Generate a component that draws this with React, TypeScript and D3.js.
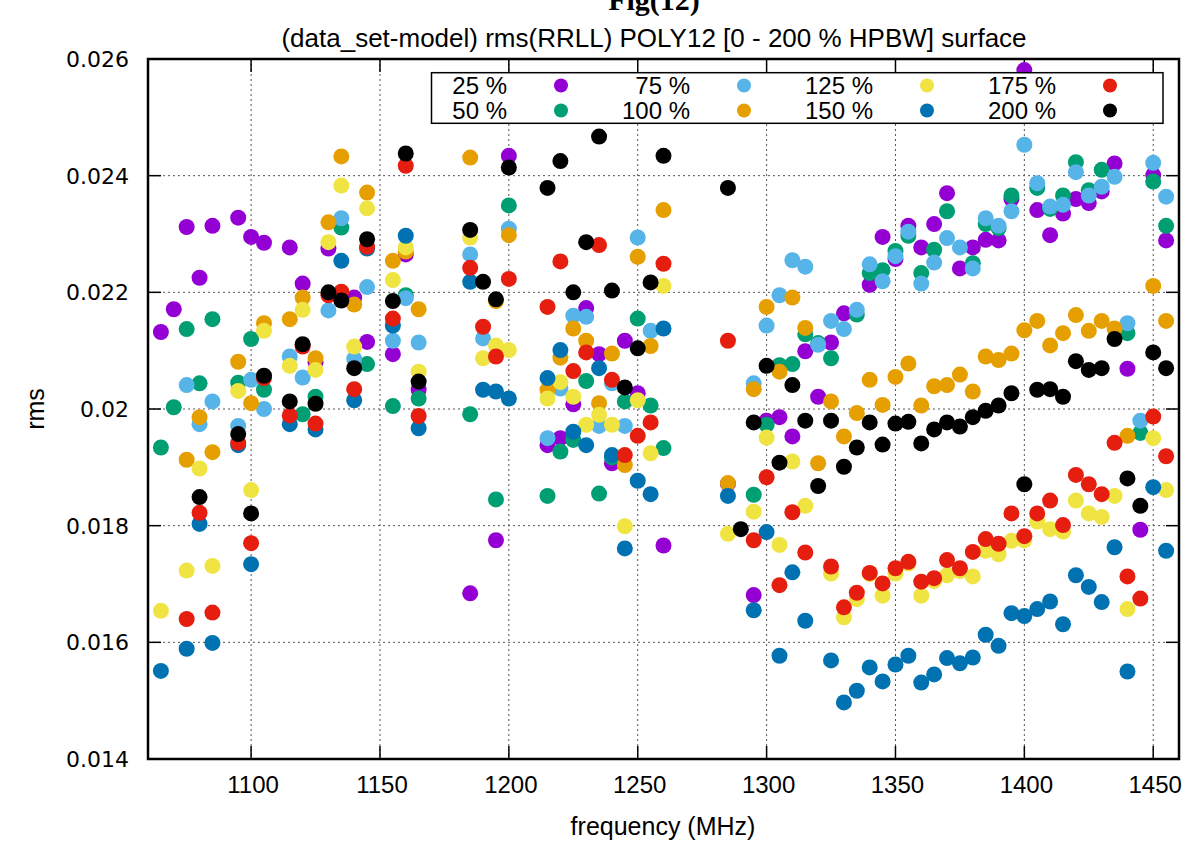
import React from "react";
import * as d3 from "d3";

type P = [number, number];

const s25: P[] = [[1065,0.02132],[1070,0.02171],[1075,0.02312],[1080,0.02225],[1085,0.02314],[1095,0.02328],[1100,0.02295],[1105,0.02285],[1115,0.02277],[1120,0.02215],[1125,0.0208],[1130,0.02275],[1140,0.02191],[1145,0.02115],[1155,0.02094],[1160,0.02265],[1165,0.02033],[1185,0.01684],[1195,0.01775],[1200,0.02434],[1215,0.01938],[1220,0.0195],[1225,0.02008],[1230,0.02173],[1235,0.02094],[1240,0.01907],[1245,0.02117],[1250,0.02027],[1260,0.01766],[1285,0.01872],[1295,0.01681],[1300,0.0198],[1305,0.01986],[1310,0.01953],[1315,0.02099],[1320,0.02021],[1325,0.02114],[1330,0.02164],[1340,0.02213],[1345,0.02295],[1350,0.02257],[1355,0.02314],[1360,0.02277],[1365,0.02317],[1370,0.0237],[1375,0.02241],[1380,0.02277],[1385,0.0229],[1390,0.02289],[1395,0.0236],[1400,0.02581],[1405,0.02341],[1410,0.02298],[1415,0.02335],[1420,0.0236],[1425,0.02353],[1430,0.02373],[1435,0.02421],[1440,0.02069],[1445,0.01793],[1450,0.02401],[1455,0.02289]];

const s50: P[] = [[1065,0.01934],[1070,0.02003],[1075,0.02137],[1080,0.02044],[1085,0.02154],[1095,0.02045],[1100,0.0212],[1105,0.02033],[1120,0.01991],[1125,0.02021],[1135,0.02311],[1145,0.02077],[1155,0.02005],[1160,0.02195],[1165,0.02018],[1185,0.01991],[1195,0.01845],[1200,0.02349],[1215,0.01851],[1220,0.01927],[1225,0.01947],[1230,0.02048],[1235,0.01855],[1240,0.01917],[1245,0.02013],[1250,0.02155],[1255,0.02006],[1260,0.01933],[1295,0.01853],[1300,0.01973],[1305,0.02075],[1310,0.02077],[1315,0.02128],[1320,0.02113],[1325,0.02087],[1335,0.02162],[1340,0.02233],[1345,0.02238],[1350,0.02271],[1355,0.02297],[1360,0.02233],[1365,0.02273],[1370,0.02339],[1380,0.0225],[1385,0.02317],[1390,0.0231],[1395,0.02366],[1405,0.02379],[1410,0.02343],[1415,0.02366],[1420,0.02423],[1425,0.02375],[1430,0.0241],[1440,0.0213],[1445,0.01959],[1450,0.0239],[1455,0.02314]];

const s75: P[] = [[1075,0.02041],[1080,0.01974],[1085,0.02013],[1095,0.01971],[1100,0.0205],[1105,0.02],[1115,0.0209],[1120,0.02054],[1130,0.02169],[1135,0.02327],[1140,0.02086],[1145,0.02209],[1155,0.02117],[1160,0.0219],[1165,0.02114],[1185,0.02265],[1190,0.02121],[1200,0.02309],[1215,0.0195],[1220,0.02035],[1225,0.0216],[1230,0.02158],[1235,0.01971],[1240,0.02044],[1245,0.01971],[1250,0.02294],[1255,0.02134],[1295,0.02044],[1300,0.02143],[1305,0.02195],[1310,0.02255],[1315,0.02244],[1320,0.0211],[1325,0.02151],[1330,0.02137],[1335,0.0217],[1340,0.02248],[1345,0.02219],[1350,0.02262],[1355,0.02304],[1360,0.02215],[1365,0.02251],[1370,0.02293],[1375,0.02277],[1380,0.02241],[1385,0.02327],[1390,0.02314],[1395,0.02339],[1400,0.02453],[1405,0.02387],[1410,0.02347],[1415,0.0235],[1420,0.02406],[1425,0.02366],[1430,0.02381],[1435,0.02398],[1440,0.02147],[1445,0.0198],[1450,0.02422],[1455,0.02364]];

const s100: P[] = [[1075,0.01913],[1080,0.01986],[1085,0.01926],[1095,0.02081],[1100,0.0201],[1105,0.02147],[1115,0.02154],[1120,0.02191],[1125,0.02087],[1130,0.0232],[1135,0.02433],[1140,0.02179],[1145,0.02371],[1155,0.02254],[1160,0.0227],[1165,0.02171],[1185,0.02431],[1195,0.02185],[1200,0.02298],[1215,0.02033],[1220,0.02088],[1225,0.02138],[1230,0.02117],[1235,0.0201],[1240,0.02095],[1245,0.01904],[1250,0.02261],[1255,0.02108],[1260,0.02341],[1285,0.01873],[1295,0.02034],[1300,0.02175],[1305,0.02064],[1310,0.02191],[1315,0.02139],[1320,0.01907],[1325,0.02013],[1330,0.01953],[1335,0.01993],[1340,0.0205],[1345,0.02007],[1350,0.02055],[1355,0.02078],[1360,0.02006],[1365,0.02039],[1370,0.02041],[1375,0.02059],[1380,0.0203],[1385,0.0209],[1390,0.02084],[1395,0.02095],[1400,0.02135],[1405,0.02151],[1410,0.02109],[1415,0.0213],[1420,0.02161],[1425,0.02134],[1430,0.02151],[1435,0.02138],[1440,0.01954],[1450,0.02211],[1455,0.02151]];

const s125: P[] = [[1065,0.01654],[1075,0.01723],[1080,0.01898],[1085,0.01731],[1095,0.02031],[1100,0.01861],[1105,0.02134],[1115,0.02074],[1120,0.0217],[1125,0.02067],[1130,0.02286],[1135,0.02383],[1140,0.02107],[1145,0.02344],[1155,0.02221],[1160,0.02277],[1165,0.02064],[1185,0.02294],[1190,0.02087],[1195,0.02109],[1200,0.02101],[1215,0.02018],[1220,0.02046],[1225,0.02021],[1230,0.01973],[1235,0.0199],[1240,0.01973],[1245,0.01799],[1250,0.02015],[1255,0.01924],[1260,0.02211],[1285,0.01786],[1295,0.01824],[1300,0.01951],[1305,0.01767],[1310,0.0191],[1315,0.01834],[1325,0.01718],[1330,0.01643],[1335,0.01674],[1340,0.01717],[1345,0.0168],[1350,0.01718],[1355,0.01735],[1360,0.0168],[1365,0.01705],[1370,0.01715],[1375,0.01722],[1380,0.01713],[1385,0.01757],[1390,0.01751],[1395,0.01774],[1400,0.01775],[1405,0.01807],[1410,0.01794],[1415,0.0179],[1420,0.01843],[1425,0.01821],[1430,0.01815],[1435,0.01851],[1440,0.01657],[1450,0.0195],[1455,0.01861]];

const s150: P[] = [[1065,0.01551],[1075,0.01589],[1080,0.01803],[1085,0.01599],[1095,0.01938],[1100,0.01734],[1115,0.01974],[1125,0.01965],[1135,0.02254],[1140,0.02015],[1145,0.02275],[1155,0.02143],[1160,0.02297],[1165,0.01967],[1185,0.02218],[1190,0.02033],[1195,0.0203],[1200,0.02018],[1215,0.02053],[1220,0.02101],[1225,0.01961],[1230,0.01938],[1235,0.0207],[1240,0.01921],[1245,0.01761],[1250,0.01877],[1255,0.01854],[1260,0.02138],[1285,0.01851],[1295,0.01655],[1300,0.01789],[1305,0.01577],[1310,0.0172],[1315,0.01637],[1325,0.01569],[1330,0.01497],[1335,0.01517],[1340,0.01557],[1345,0.01533],[1350,0.01562],[1355,0.01577],[1360,0.01531],[1365,0.01545],[1370,0.01573],[1375,0.01564],[1380,0.01574],[1385,0.01613],[1390,0.01594],[1395,0.0165],[1400,0.01645],[1405,0.01657],[1410,0.0167],[1415,0.01631],[1420,0.01715],[1425,0.01695],[1430,0.01669],[1435,0.01763],[1440,0.0155],[1450,0.01866],[1455,0.01757]];

const s175: P[] = [[1075,0.0164],[1080,0.01822],[1085,0.01651],[1095,0.01942],[1100,0.0177],[1105,0.02053],[1115,0.01989],[1120,0.02107],[1125,0.01975],[1130,0.02195],[1135,0.02201],[1140,0.02034],[1145,0.02278],[1155,0.02155],[1160,0.02417],[1165,0.01988],[1185,0.02242],[1190,0.02141],[1195,0.0209],[1200,0.02223],[1215,0.02175],[1220,0.02253],[1225,0.02065],[1230,0.02097],[1235,0.02281],[1240,0.0205],[1245,0.01921],[1250,0.01954],[1255,0.01977],[1260,0.02249],[1285,0.02117],[1295,0.01775],[1300,0.01883],[1305,0.01698],[1310,0.01823],[1315,0.01754],[1325,0.0173],[1330,0.0166],[1335,0.01685],[1340,0.01719],[1345,0.01701],[1350,0.01727],[1355,0.01738],[1360,0.01704],[1365,0.0171],[1370,0.01741],[1375,0.01727],[1380,0.01755],[1385,0.01777],[1390,0.01769],[1395,0.01821],[1400,0.01782],[1405,0.01821],[1410,0.01843],[1415,0.01801],[1420,0.01887],[1425,0.01871],[1430,0.01854],[1435,0.01942],[1440,0.01713],[1445,0.01675],[1450,0.01987],[1455,0.01919]];

const s200: P[] = [[1080,0.01849],[1095,0.01957],[1100,0.01821],[1105,0.02057],[1115,0.02013],[1120,0.02111],[1125,0.02009],[1130,0.022],[1135,0.02186],[1140,0.0207],[1145,0.02291],[1155,0.02185],[1160,0.02438],[1165,0.02047],[1185,0.02307],[1190,0.02218],[1195,0.02188],[1200,0.02414],[1215,0.02379],[1220,0.02425],[1225,0.022],[1230,0.02286],[1235,0.02467],[1240,0.02203],[1245,0.02037],[1250,0.02104],[1255,0.02217],[1260,0.02434],[1285,0.02379],[1290,0.01794],[1295,0.01977],[1300,0.02074],[1305,0.01908],[1310,0.02041],[1315,0.0198],[1320,0.01868],[1325,0.0198],[1330,0.01901],[1335,0.01934],[1340,0.01977],[1345,0.01939],[1350,0.01975],[1355,0.01978],[1360,0.01941],[1365,0.01965],[1370,0.01977],[1375,0.0197],[1380,0.01986],[1385,0.01997],[1390,0.02006],[1395,0.02027],[1400,0.01871],[1405,0.02033],[1410,0.02034],[1415,0.02021],[1420,0.02082],[1425,0.02067],[1430,0.0207],[1435,0.0212],[1440,0.01881],[1445,0.01834],[1450,0.02097],[1455,0.0207]];

const seriesLabels = ["25 %", "50 %", "75 %", "100 %", "125 %", "150 %", "175 %", "200 %"];
const seriesColors = ["#9400d3", "#009e73", "#56b4e9", "#e69f00", "#f0e442", "#0072b2", "#e51e10", "#000000"];
const seriesData = [s25, s50, s75, s100, s125, s150, s175, s200];

const xTicks = [1100, 1150, 1200, 1250, 1300, 1350, 1400, 1450];
const yTicks = [0.014, 0.016, 0.018, 0.02, 0.022, 0.024, 0.026];
const yTickLabels = ["0.014", "0.016", "0.018", "0.02", "0.022", "0.024", "0.026"];

const L = 148, R = 1179, T = 59, B = 759;
const x = d3.scaleLinear().domain([1060, 1460]).range([L, R]);
const y = d3.scaleLinear().domain([0.014, 0.026]).range([B, T]);

const SANS = "'Liberation Sans', Arial, Helvetica, sans-serif";

export default function App() {
  const legendCols = [0, 1, 2, 3];
  return (
    <svg width={1195} height={841} style={{ position: "absolute", left: 0, top: 0, background: "#fff" }}>
      <rect x={0} y={0} width={1195} height={841} fill="#fff" />
      {/* grid */}
      {xTicks.map((t) => (
        <line key={"gx" + t} x1={x(t)} x2={x(t)} y1={T} y2={B} stroke="#555" strokeWidth={1} strokeDasharray="2,3" />
      ))}
      {yTicks.slice(1, -1).map((t) => (
        <line key={"gy" + t} x1={L} x2={R} y1={y(t)} y2={y(t)} stroke="#555" strokeWidth={1} strokeDasharray="2,3" />
      ))}
      {/* ticks */}
      {xTicks.map((t) => (
        <g key={"tx" + t}>
          <line x1={x(t)} x2={x(t)} y1={B} y2={B - 13} stroke="#000" strokeWidth={1.5} />
          <line x1={x(t)} x2={x(t)} y1={T} y2={T + 13} stroke="#000" strokeWidth={1.5} />
          <text x={x(t) + 2} y={793} textAnchor="middle" fontFamily={SANS} fontSize={24} fill="#000">{t}</text>
        </g>
      ))}
      {yTicks.map((t, i) => (
        <g key={"ty" + t}>
          <line x1={L} x2={L + 13} y1={y(t)} y2={y(t)} stroke="#000" strokeWidth={1.5} />
          <line x1={R} x2={R - 13} y1={y(t)} y2={y(t)} stroke="#000" strokeWidth={1.5} />
          <text x={129} y={y(t) + 8} textAnchor="end" fontFamily="'DejaVu Sans', sans-serif" fontSize={22} fill="#000">{yTickLabels[i]}</text>
        </g>
      ))}
      {/* points */}
      {seriesData.map((data, si) => (
        <g key={"s" + si}>
          {data.map((d, i) => (
            <circle key={i} cx={x(d[0])} cy={y(d[1])} r={8} fill={seriesColors[si]} />
          ))}
        </g>
      ))}
      {/* legend */}
      <rect x={431.5} y={72.7} width={731.5} height={50.6} fill="#fff" stroke="#000" strokeWidth={1.5} />
      {legendCols.map((c) =>
        [0, 1].map((r) => {
          const idx = c * 2 + r;
          const tx = 507 + c * 183;
          const ty = r === 0 ? 93.5 : 118.5;
          return (
            <g key={"lg" + idx}>
              <text x={tx} y={ty} textAnchor="end" fontFamily={SANS} fontSize={24} fill="#000">{seriesLabels[idx]}</text>
              <circle cx={tx + 54} cy={ty - 8} r={7} fill={seriesColors[idx]} />
            </g>
          );
        })
      )}
      {/* frame */}
      <rect x={L} y={T} width={R - L} height={B - T} fill="none" stroke="#000" strokeWidth={2.5} />
      {/* titles */}
      <text x={654} y={10} textAnchor="middle" fontFamily="'Liberation Serif', 'Times New Roman', serif" fontWeight="bold" fontSize={30} fill="#000">Fig(12)</text>
      <text x={654} y={47} textAnchor="middle" fontFamily={SANS} fontSize={26} fill="#000">(data_set-model) rms(RRLL) POLY12 [0 - 200 % HPBW] surface</text>
      <text x={663} y={835} textAnchor="middle" fontFamily={SANS} fontSize={25} fill="#000">frequency (MHz)</text>
      <text transform="translate(44,409) rotate(-90)" textAnchor="middle" fontFamily={SANS} fontSize={25} fill="#000">rms</text>
    </svg>
  );
}
